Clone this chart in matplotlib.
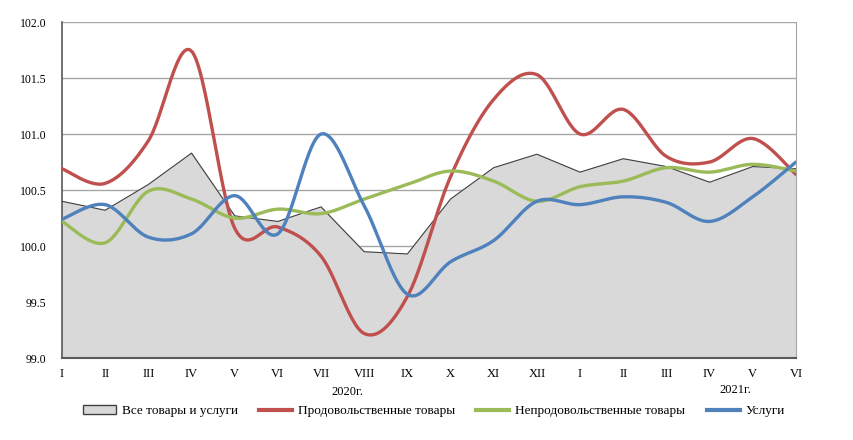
import numpy as np
import matplotlib
matplotlib.use('Agg')
import matplotlib.pyplot as plt
from matplotlib.patches import Patch
from matplotlib.lines import Line2D

plt.rcParams['font.family'] = ['Liberation Serif', 'DejaVu Serif']

months = ['I', 'II', 'III', 'IV', 'V', 'VI', 'VII', 'VIII', 'IX', 'X', 'XI', 'XII',
          'I', 'II', 'III', 'IV', 'V', 'VI']

all_goods = [100.40, 100.32, 100.55, 100.83, 100.27, 100.22, 100.35, 99.95, 99.93,
             100.42, 100.70, 100.82, 100.66, 100.78, 100.71, 100.57, 100.71, 100.69]
food = [100.69, 100.56, 100.94, 101.74, 100.16, 100.17, 99.91, 99.22, 99.55,
        100.62, 101.31, 101.53, 101.00, 101.22, 100.80, 100.75, 100.96, 100.64]
non_food = [100.22, 100.03, 100.49, 100.42, 100.25, 100.33, 100.29, 100.42, 100.55,
            100.67, 100.58, 100.40, 100.53, 100.58, 100.70, 100.66, 100.73, 100.67]
services = [100.24, 100.37, 100.08, 100.11, 100.45, 100.11, 101.00, 100.36, 99.57,
            99.86, 100.05, 100.40, 100.37, 100.44, 100.39, 100.22, 100.44, 100.75]

labels = ['Все товары и услуги', 'Продовольственные товары',
          'Непродовольственные товары', 'Услуги']
colors = ['#C0504D', '#9BBB59', '#4F81BD']


def smooth(x, y, n=30):
    # Excel-like smoothed line (Catmull-Rom through Bezier segments)
    x = np.asarray(x, float)
    y = np.asarray(y, float)
    px = np.concatenate([[x[0]], x, [x[-1]]])
    py = np.concatenate([[y[0]], y, [y[-1]]])
    xs, ys = [], []
    t = np.linspace(0, 1, n)
    for i in range(1, len(px) - 2):
        p0 = np.array([px[i], py[i]])
        p3 = np.array([px[i + 1], py[i + 1]])
        p1 = p0 + (p3 - np.array([px[i - 1], py[i - 1]])) / 6
        p2 = p3 - (np.array([px[i + 2], py[i + 2]]) - p0) / 6
        b = ((1 - t) ** 3)[:, None] * p0 + (3 * (1 - t) ** 2 * t)[:, None] * p1 \
            + (3 * (1 - t) * t ** 2)[:, None] * p2 + (t ** 3)[:, None] * p3
        xs.extend(b[:, 0])
        ys.extend(b[:, 1])
    return np.array(xs), np.array(ys)


fig = plt.figure(figsize=(8.54, 4.40), dpi=100)
ax = fig.add_axes([0.0726, 0.186, 0.8594, 0.764])

x = np.arange(len(months))
ax.fill_between(x, 99.0, all_goods, color='#D9D9D9', zorder=2)
ax.plot(x, all_goods, color='#404040', lw=0.8, zorder=3)

for vals, c in zip([food, non_food, services], colors):
    sx, sy = smooth(x, vals)
    ax.plot(sx, sy, color=c, lw=2.4, zorder=4, solid_capstyle='round')

ax.set_xlim(0, len(months) - 1)
ax.set_ylim(99.0, 102.0)
ax.set_yticks(np.arange(99.0, 102.01, 0.5))
ax.set_yticklabels(['%.1f' % v for v in np.arange(99.0, 102.01, 0.5)])
ax.set_xticks(x)
ax.set_xticklabels(months)
ax.tick_params(length=0, labelsize=9, pad=7)
ax.tick_params(axis='y', labelsize=8.5, pad=11)
ax.yaxis.grid(True, color='#A6A6A6', lw=1)
ax.set_axisbelow(True)

ax.spines['top'].set_visible(False)
ax.spines['right'].set_color('#A6A6A6')
ax.spines['left'].set_color('#595959')
ax.spines['bottom'].set_color('#595959')
ax.spines['bottom'].set_linewidth(1.5)
ax.spines['left'].set_linewidth(1.2)

fig.text(347 / 854, 1 - 392 / 440, '2020г.', ha='center', va='center', fontsize=9)
fig.text(735 / 854, 1 - 390 / 440, '2021г.', ha='center', va='center', fontsize=9)

handles = [Patch(facecolor='#D9D9D9', edgecolor='#404040', lw=1)]
handles += [Line2D([], [], color=c, lw=3) for c in colors]
fig.legend(handles, labels, loc='center', bbox_to_anchor=(434 / 854, 1 - 411 / 440),
           ncol=4, frameon=False, fontsize=9.5, handlelength=2.5, handleheight=0.6,
           columnspacing=1.6, handletextpad=0.45)

plt.savefig('out.png', dpi=100)
